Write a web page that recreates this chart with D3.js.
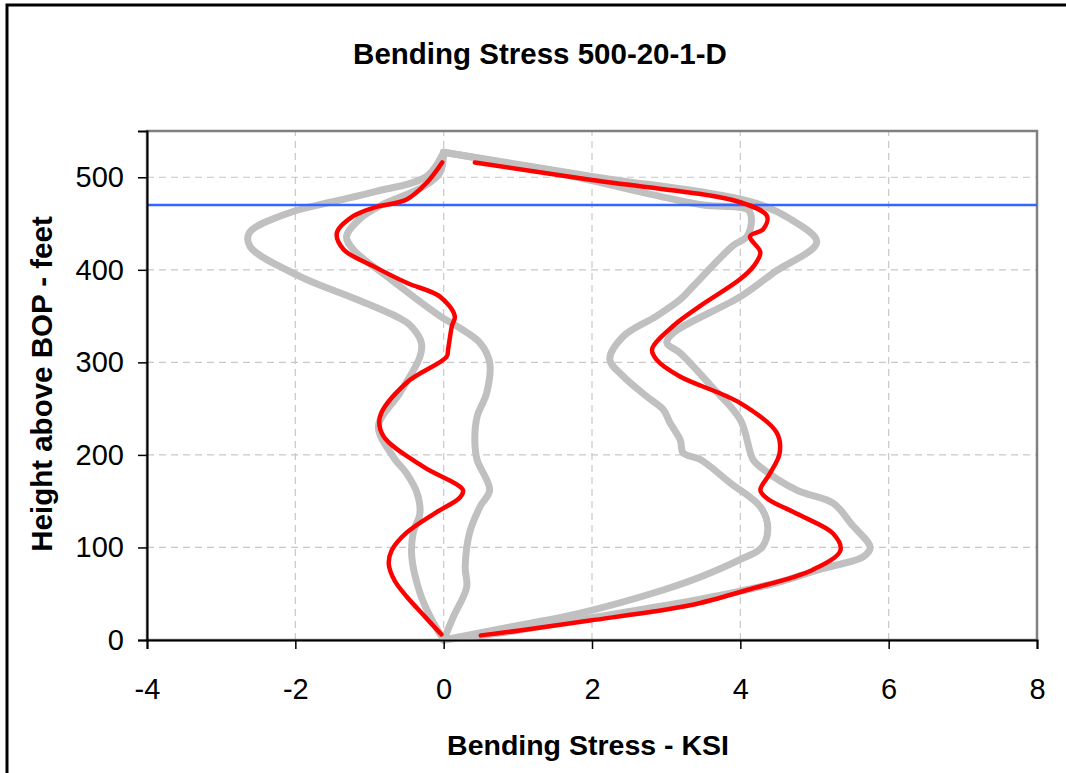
<!DOCTYPE html>
<html>
<head>
<meta charset="utf-8">
<script src="https://cdnjs.cloudflare.com/ajax/libs/d3/7.8.5/d3.min.js"></script>
<style>
  body { margin: 0; background: #fff; }
  svg { display: block; font-family: "Liberation Sans", Arial, sans-serif; }
</style>
</head>
<body>
<svg id="chart" width="1066" height="773"></svg>
<script>
// [stress KSI, height ft] pairs
var grayOuterLeft = [[0,0],[-0.18,25],[-0.32,51],[-0.43,90],[-0.41,116],[-0.32,137],[-0.36,159],
  [-0.5,180],[-0.68,198],[-0.88,231],[-0.59,267],[-0.32,306],[-0.3,321],[-0.45,340],[-0.6,348],
  [-1.17,368],[-1.94,393],[-2.61,425],[-2.62,440],[-2.07,462],[-1.53,473],[-0.95,484],
  [-0.23,501],[0,527]];
var grayInnerLeft = [[0,0],[0.13,25],[0.31,57],[0.29,79],[0.35,116],[0.49,144],[0.62,162],
  [0.45,195],[0.42,216],[0.45,241],[0.58,267],[0.62,300],[0.49,321],[0.2,338],[-0.05,350],
  [-0.72,390],[-1.22,422],[-1.31,436],[-1.13,455],[-0.86,469],[-0.27,490],[-0.05,505],[0,527]];
var grayOuterRight = [[0,0],[0.8,8],[1.84,22],[3.46,44],[4.5,62],[5.1,77],[5.66,90],[5.75,100],
  [5.5,125],[5.25,148],[4.76,162],[4.27,187],[4.17,195],[4.0,238],[3.6,275],[3.19,310],
  [3.01,321],[3.1,332],[4.0,371],[4.45,397],[5.03,430],[4.67,455],[4.17,473],[2.0,501],[0,527]];
var grayInnerRight = [[0,0],[0.9,14],[1.84,29],[2.96,54],[3.46,68],[4.0,87],[4.29,100],
  [4.37,122],[4.27,144],[3.86,170],[3.46,195],[3.23,202],[3.19,216],[3.05,235],[2.96,249],
  [2.74,263],[2.42,285],[2.24,303],[2.42,328],[2.87,350],[3.19,368],[3.36,382],[3.9,426],
  [4.09,436],[4.15,455],[4.1,465],[3.5,470],[3.0,478],[1.5,505],[0,527]];
var redLeft = [[-0.03,6],[-0.25,25],[-0.5,47],[-0.66,64],[-0.74,82],[-0.7,97],[-0.5,116],
  [-0.1,138],[0.22,154],[0.26,162],[-0.27,187],[-0.81,220],[-0.86,241],[-0.5,278],[0.04,306],
  [0.06,314],[0.11,339],[0.15,350],[-0.05,371],[-0.5,386],[-0.95,404],[-1.35,422],[-1.44,440],
  [-1.22,458],[-0.95,467],[-0.5,476],[-0.23,494],[-0.02,516]];
var redRight = [[0.5,5],[1.0,10],[1.97,21],[3.0,33],[3.46,40],[4.09,54],[4.98,76],[5.35,97],
  [5.25,115],[4.8,135],[4.36,153],[4.27,162],[4.4,180],[4.53,202],[4.49,224],[4.0,256],
  [3.18,285],[2.87,303],[2.81,314],[3.09,339],[3.46,361],[4.0,390],[4.18,404],[4.27,419],
  [4.13,436],[4.31,444],[4.36,458],[4.0,473],[2.0,497],[0.42,516]];
var bopLine = 470;

var xTicks = [-4, -2, 0, 2, 4, 6, 8];
var yTicks = [0, 100, 200, 300, 400, 500];
var xGrid = [-2, 0, 2, 4, 6];
var yGrid = [100, 200, 300, 400, 500];

var svg = d3.select("#chart");

// outer frame, cropped on the right and bottom
svg.append("rect")
    .attr("x", 7).attr("y", 5)
    .attr("width", 1100).attr("height", 820)
    .attr("fill", "none").attr("stroke", "#000").attr("stroke-width", 3);

var x = d3.scaleLinear().domain([-4, 8]).range([147, 1037]);
var y = d3.scaleLinear().domain([0, 550]).range([640, 131]);

// grid
var grid = svg.append("g")
    .attr("stroke", "#c8c8c8").attr("stroke-width", 1.2).attr("stroke-dasharray", "7,5");
grid.selectAll("line.v").data(xGrid).enter().append("line")
    .attr("x1", x).attr("x2", x).attr("y1", y(0)).attr("y2", y(550));
grid.selectAll("line.h").data(yGrid).enter().append("line")
    .attr("y1", y).attr("y2", y).attr("x1", x(-4)).attr("x2", x(8));

// plot area border
svg.append("rect")
    .attr("x", x(-4)).attr("y", y(550))
    .attr("width", x(8) - x(-4)).attr("height", y(0) - y(550))
    .attr("fill", "none").attr("stroke", "#808080").attr("stroke-width", 2.5);

var line = d3.line()
    .x(function(d) { return x(d[0]); })
    .y(function(d) { return y(d[1]); })
    .curve(d3.curveCatmullRom.alpha(0.5));

[grayOuterLeft, grayInnerLeft, grayOuterRight, grayInnerRight].forEach(function(s) {
  svg.append("path").datum(s)
      .attr("d", line)
      .attr("fill", "none").attr("stroke", "#c0c0c0")
      .attr("stroke-width", 7).attr("stroke-linejoin", "round").attr("stroke-linecap", "round");
});

svg.append("line")
    .attr("x1", x(-4)).attr("x2", x(8))
    .attr("y1", y(bopLine)).attr("y2", y(bopLine))
    .attr("stroke", "#3366ff").attr("stroke-width", 2.5);

[redLeft, redRight].forEach(function(s) {
  svg.append("path").datum(s)
      .attr("d", line)
      .attr("fill", "none").attr("stroke", "#ff0000")
      .attr("stroke-width", 4.5).attr("stroke-linejoin", "round").attr("stroke-linecap", "round");
});

// axes
var xAxis = d3.axisBottom(x).tickValues(xTicks).tickSize(9).tickPadding(29)
    .tickFormat(d3.format("d"));
var gx = svg.append("g").attr("transform", "translate(0," + y(0) + ")").call(xAxis);
var yAxis = d3.axisLeft(y).tickValues(yTicks).tickSize(9).tickPadding(14)
    .tickFormat(d3.format("d"));
var gy = svg.append("g").attr("transform", "translate(" + x(-4) + ",0)").call(yAxis);

[gx, gy].forEach(function(g) {
  g.select(".domain").attr("stroke", "#000").attr("stroke-width", 2);
  g.selectAll(".tick line").attr("stroke", "#000").attr("stroke-width", 1.5);
  g.selectAll(".tick text").attr("fill", "#000").attr("font-size", 29)
      .attr("font-family", "'Liberation Sans', Arial, sans-serif");
});
gx.selectAll(".tick text").text(function(d) { return d < 0 ? "-" + Math.abs(d) : d; });

// titles
svg.append("text")
    .attr("x", 540).attr("y", 64)
    .attr("text-anchor", "middle").attr("font-size", 29.5).attr("font-weight", "bold")
    .text("Bending Stress 500-20-1-D");
svg.append("text")
    .attr("x", 588).attr("y", 755)
    .attr("text-anchor", "middle").attr("font-size", 28.5).attr("font-weight", "bold")
    .text("Bending Stress - KSI");
svg.append("text")
    .attr("transform", "translate(52,384) rotate(-90)")
    .attr("text-anchor", "middle").attr("font-size", 29.5).attr("font-weight", "bold")
    .text("Height above BOP - feet");
</script>
</body>
</html>
